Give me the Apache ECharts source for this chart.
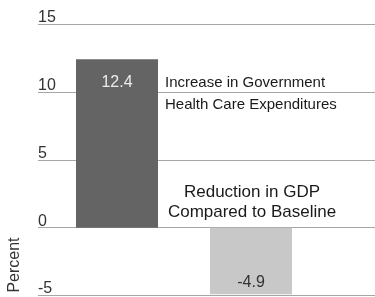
<!DOCTYPE html>
<html>
  <head>
    <meta charset="utf-8" />
    <title>Percent change</title>
    <script src="https://cdn.jsdelivr.net/npm/echarts@6/dist/echarts.min.js"></script>
    <style>
      html, body { margin: 0; padding: 0; background: #fff; }
    </style>
  </head>
  <body>
    <div id="chart" style="width: 375px; height: 297px"></div>

    <script type="text/javascript">
// Data
const categories = ['Increase in Government Health Care Expenditures', 'Reduction in GDP Compared to Baseline'];
const values = [12.4, -4.9];
const bar_colors = ['#646464', '#c8c8c8'];
const label_colors = ['#ececec', '#333333'];
const y_min = -5;
const y_max = 15;
const y_step = 5;

const font = '"Liberation Sans", Arial, Helvetica, sans-serif';

const option = {
  animation: false,
  grid: [
    // bars
    { left: 50, right: 57, top: 24, height: 271.5 },
    // gridlines + tick labels, wider than the bars
    { left: 38, right: 0, top: 24, height: 271.5 },
  ],
  xAxis: [
    {
      gridIndex: 0,
      type: 'category',
      data: categories,
      show: false,
    },
    {
      gridIndex: 1,
      type: 'category',
      data: [''],
      show: false,
    },
  ],
  yAxis: [
    {
      gridIndex: 0,
      type: 'value',
      min: y_min,
      max: y_max,
      interval: y_step,
      show: false,
    },
    {
      gridIndex: 1,
      type: 'value',
      min: y_min,
      max: y_max,
      interval: y_step,
      axisLine: { show: false },
      axisTick: { show: false },
      splitLine: { lineStyle: { color: '#a6a6a6', width: 1 } },
      axisLabel: {
        inside: true,
        margin: 0,
        align: 'left',
        verticalAlign: 'bottom',
        lineHeight: 13,
        fontSize: 16,
        fontFamily: font,
        color: '#333',
      },
    },
  ],
  series: [
    {
      type: 'bar',
      xAxisIndex: 0,
      yAxisIndex: 0,
      barWidth: 82,
      z: 3,
      data: values.map((v, i) => ({
        value: v,
        itemStyle: { color: bar_colors[i] },
        label: {
          show: true,
          position: v >= 0 ? 'insideTop' : 'insideBottom',
          distance: v >= 0 ? 15 : 4,
          color: label_colors[i],
          fontSize: 16,
          fontFamily: font,
          formatter: '{c}',
        },
      })),
    },
  ],
  graphic: [
    {
      type: 'text',
      left: 165,
      top: 72,
      z: 10,
      style: {
        text: 'Increase in Government\nHealth Care Expenditures',
        fontSize: 15,
        lineHeight: 22,
        fontFamily: font,
        fill: '#1a1a1a',
      },
    },
    {
      type: 'text',
      x: 252,
      y: 182,
      z: 10,
      style: {
        text: 'Reduction in GDP\nCompared to Baseline',
        fontSize: 17,
        lineHeight: 20,
        fontFamily: font,
        fill: '#1a1a1a',
        align: 'center',
        verticalAlign: 'top',
      },
    },
    {
      type: 'text',
      x: 15,
      y: 265,
      rotation: Math.PI / 2,
      z: 10,
      style: {
        text: 'Percent',
        fontSize: 16,
        fontFamily: font,
        fill: '#333',
        align: 'center',
        verticalAlign: 'middle',
      },
    },
  ],
};

const chart = echarts.init(document.getElementById('chart'));
chart.setOption(option);
    </script>
  </body>
</html>
